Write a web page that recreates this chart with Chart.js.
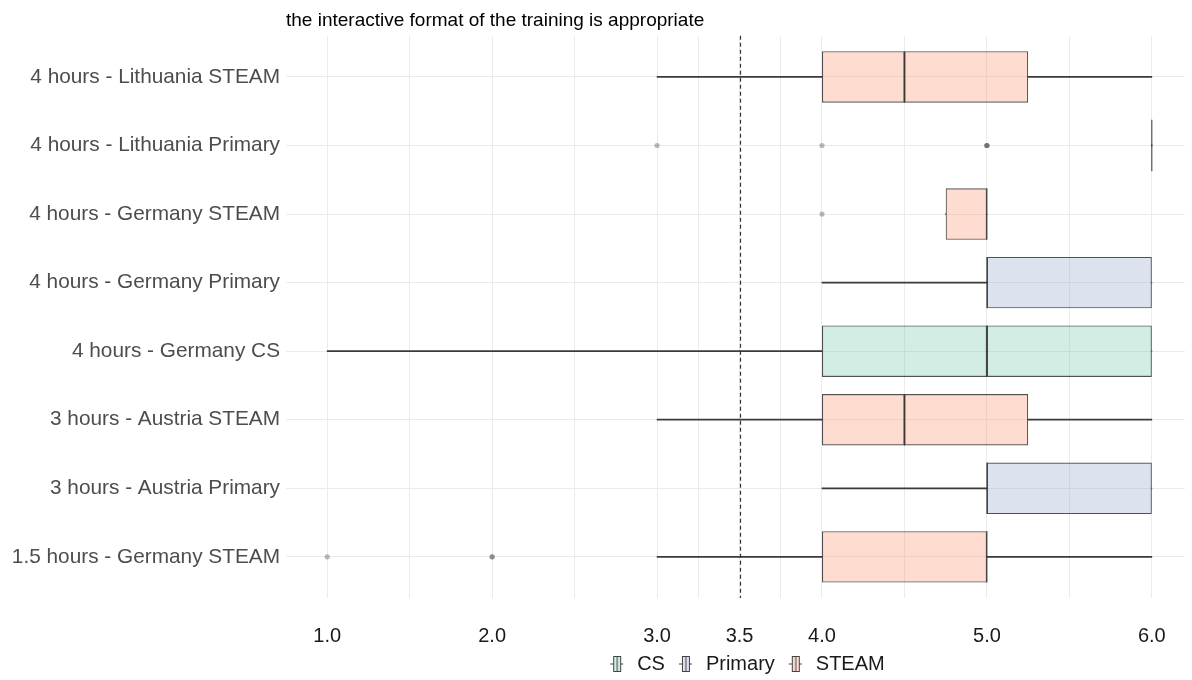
<!DOCTYPE html>
<html>
<head>
<meta charset="utf-8">
<script src="https://cdn.jsdelivr.net/npm/chart.js@4"></script>
<style>
html,body{margin:0;padding:0;background:#fff;}
#wrap{width:1192px;height:680px;position:relative;}
</style>
</head>
<body>
<div id="wrap"><canvas id="c" width="1192" height="680"></canvas></div>
<script>
// ---- data ----
const titleText = "the interactive format of the training is appropriate";
const categories = [
  "4 hours - Lithuania STEAM",
  "4 hours - Lithuania Primary",
  "4 hours - Germany STEAM",
  "4 hours - Germany Primary",
  "4 hours - Germany CS",
  "3 hours - Austria STEAM",
  "3 hours - Austria Primary",
  "1.5 hours - Germany STEAM"
];
const groups   = ["STEAM","Primary","STEAM","Primary","CS","STEAM","Primary","STEAM"];
const mins     = [3,    6, 4.75, 4, 1, 3,    4, 3];
const q1s      = [4,    6, 4.75, 5, 4, 4,    5, 4];
const medians  = [4.5,  6, 5,    5, 5, 4.5,  5, 5];
const q3s      = [5.25, 6, 5,    6, 6, 5.25, 6, 5];
const maxs     = [6,    6, 5,    6, 6, 6,    6, 6];
const outliers = [[], [3,4,5,5,5], [4], [], [], [], [], [1,2,2]];
const legendGroups = ["CS","Primary","STEAM"];
const tickValues = [1,2,3,3.5,4,5,6];
const refLine = 3.5;

// ---- styles ----
const FONT = 'Liberation Sans, Arial, sans-serif';
const fills = {CS:"rgba(102,194,165,0.3)", Primary:"rgba(141,160,203,0.3)", STEAM:"rgba(252,141,98,0.3)"};
const edge = "rgba(51,51,51,0.85)";
const fillArr = groups.map(g => fills[g]);

const lowWhisk  = categories.map((c,i) => ({y:i, x:[mins[i], q1s[i]]}));
const highWhisk = categories.map((c,i) => ({y:i, x:[q3s[i], maxs[i]]}));
const lowBox    = categories.map((c,i) => ({y:i, x:[q1s[i], medians[i]]}));
const highBox   = categories.map((c,i) => ({y:i, x:[medians[i], q3s[i]]}));
const medBar    = categories.map((c,i) => ({y:i, x:[medians[i]-0.003, medians[i]+0.003]}));
const outPts = [];
outliers.forEach((arr,i) => arr.forEach(v => outPts.push({x:v, y:i})));

const minorTicks = [];
for (let i=0;i<tickValues.length-1;i++) minorTicks.push((tickValues[i]+tickValues[i+1])/2);
const allTicks = tickValues.concat(minorTicks).filter((v,i,a)=>a.indexOf(v)===i).sort((a,b)=>a-b);

function glyph(fill){
  const cv = document.createElement('canvas');
  cv.width = 25; cv.height = 16;
  const g = cv.getContext('2d');
  g.strokeStyle = '#444'; g.lineWidth = 1;
  g.beginPath(); g.moveTo(8,8); g.lineTo(21,8); g.stroke();
  g.fillStyle = '#fff'; g.fillRect(11.5,0.5,7,15);
  g.fillStyle = fill; g.fillRect(11.5,0.5,7,15);
  g.strokeRect(11.5,0.5,7,15);
  g.beginPath(); g.moveTo(15,0.5); g.lineTo(15,15.5); g.stroke();
  return cv;
}
const glyphs = {}; legendGroups.forEach(g => glyphs[g] = glyph(fills[g]));

const refLinePlugin = {
  id:'refLine',
  afterLayout(chart){
    if (chart.legend){ chart.legend.left += 8; chart.legend.right += 8; }
  },
  afterDatasetsDraw(chart){
    const {ctx, chartArea, scales} = chart;
    const x = Math.round(scales.x.getPixelForValue(refLine)) + 0.5;
    ctx.save();
    ctx.strokeStyle = '#333'; ctx.lineWidth = 1.2; ctx.setLineDash([4,3]);
    ctx.beginPath(); ctx.moveTo(x, chartArea.top); ctx.lineTo(x, chartArea.bottom); ctx.stroke();
    ctx.restore();
  }
};

const barCommon = {grouped:false, categoryPercentage:1, barPercentage:0.75, borderSkipped:false};

new Chart(document.getElementById('c'), {
  type:'bar',
  data:{
    datasets:[
      Object.assign({label:'lowWhisker', data:lowWhisk, backgroundColor:'#3a3a3a', barThickness:1.1, order:5}, barCommon),
      Object.assign({label:'highWhisker', data:highWhisk, backgroundColor:'#3a3a3a', barThickness:1.1, order:5}, barCommon),
      Object.assign({label:'lowBox', data:lowBox, backgroundColor:fillArr, borderColor:edge, borderWidth:1.1, order:4}, barCommon),
      Object.assign({label:'highBox', data:highBox, backgroundColor:fillArr, borderColor:edge, borderWidth:1.1, order:3}, barCommon),
      Object.assign({label:'median', data:medBar, backgroundColor:'#333', order:2}, barCommon),
      {type:'scatter', label:'outliers', data:outPts, backgroundColor:'rgba(80,80,80,0.4)', borderWidth:0, pointRadius:2.6, order:1}
    ]
  },
  options:{
    indexAxis:'y',
    responsive:false,
    animation:false,
    layout:{padding:{left:0,right:0,top:0,bottom:-4}},
    plugins:{
      tooltip:{enabled:false},
      title:{display:true, text:titleText, align:'start', fullSize:false, color:'#000',
        font:{family:FONT, size:19, weight:'normal'}, padding:{top:9.5,bottom:3.5}},
      legend:{
        display:true, position:'bottom', fullSize:false,
        labels:{
          usePointStyle:true, pointStyleWidth:25, color:'#1a1a1a', padding:6,
          font:{family:FONT, size:20},
          generateLabels(){
            return legendGroups.map(g => ({text:g, pointStyle:glyphs[g], fillStyle:fills[g], strokeStyle:'#333', lineWidth:0, hidden:false, datasetIndex:0, fontColor:'#1a1a1a'}));
          }
        },
        onClick(){}
      }
    },
    scales:{
      x:{
        type:'linear', min:0.75, max:6.2,
        afterBuildTicks(s){ s.ticks = allTicks.map(v=>({value:v})); },
        afterFit(s){ s.height = 50; },
        ticks:{
          padding:26, color:'#1a1a1a', maxRotation:0, autoSkip:false,
          font:{family:FONT, size:20},
          callback(v){ return tickValues.includes(v) ? v.toFixed(1) : ''; }
        },
        grid:{color:'#ebebeb', lineWidth:1, drawTicks:false},
        border:{display:false}
      },
      y:{
        type:'linear', reverse:true, min:-0.6, max:categories.length-0.4, offset:false,
        afterBuildTicks(s){ s.ticks = categories.map((c,i)=>({value:i})); },
        afterFit(s){ s.width = 286; },
        ticks:{padding:6, color:'#4d4d4d', autoSkip:false, font:{family:FONT, size:20.8},
          callback(v){ return categories[v]; }},
        grid:{color:'#ebebeb', lineWidth:1, drawTicks:false, offset:false},
        border:{display:false}
      }
    }
  },
  plugins:[refLinePlugin]
});
</script>
</body>
</html>
